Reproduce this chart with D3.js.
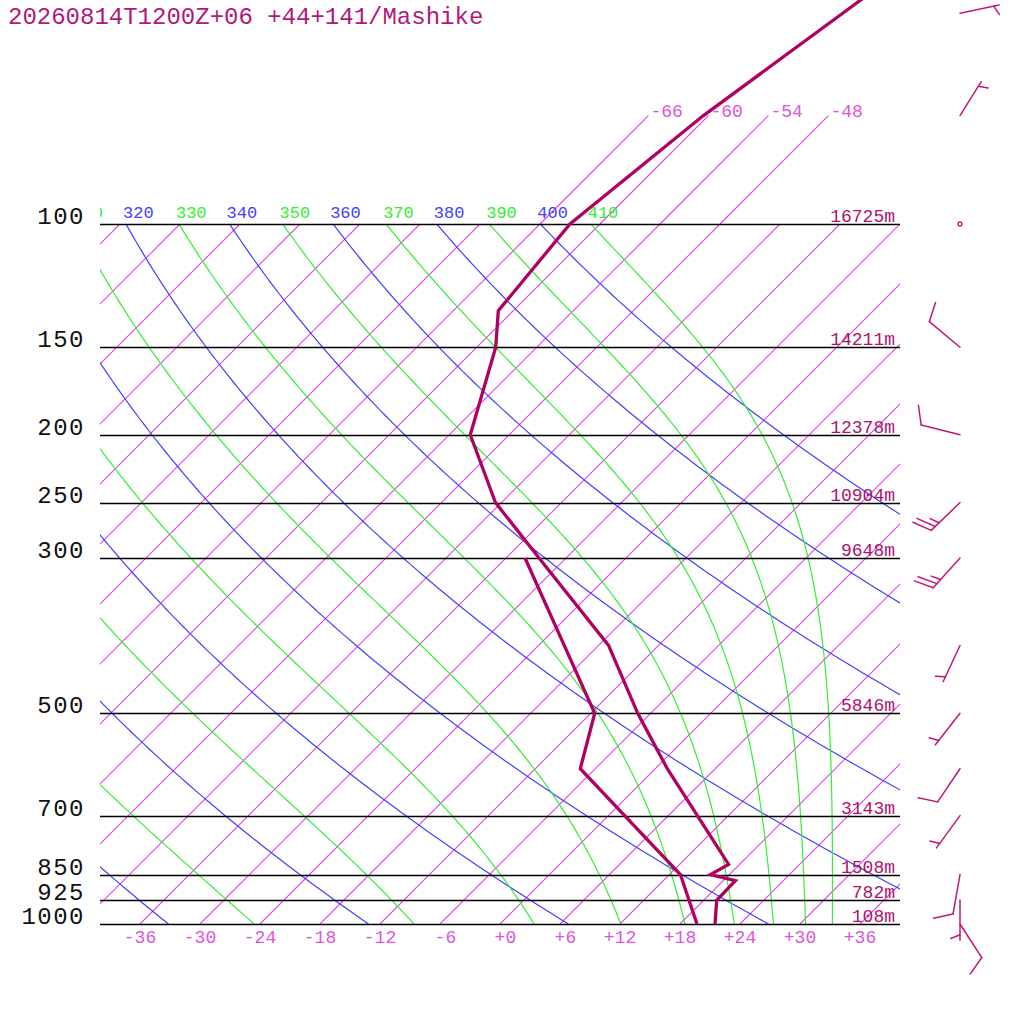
<!DOCTYPE html>
<html>
<head>
<meta charset="utf-8">
<script src="https://cdn.jsdelivr.net/npm/d3@7"></script>
<style>
  html, body { margin: 0; padding: 0; background: #fff; }
  svg { display: block; }
  text { font-family: "Liberation Mono", monospace; white-space: pre; }
</style>
</head>
<body>
<svg id="chart" width="1024" height="1024"></svg>
<script>
const title = '20260814T1200Z+06 +44+141/Mashike';

// temperature and dew point profile (hPa, degC)
const tempLevels = [1000, 925, 867, 850, 822, 600, 500, 400, 300, 250, 200, 150, 133, 100, 70, 50, 40];
const tempValues = [21.5, 19.3, 19.2, 16.1, 16.9, 1.2, -7.3, -17.0, -32.7, -42.6, -51.9, -58.1, -61.5, -63.0, -60.5, -56.8, -54.4];
const dewLevels = [1000, 850, 600, 500, 300];
const dewValues = [19.7, 13.1, -7.5, -11.6, -34.1];

// labelled levels and their heights
const stdLevels = [1000, 925, 850, 700, 500, 300, 250, 200, 150, 100];
const stdHeights = ['108m', '782m', '1508m', '3143m', '5846m', '9648m', '10904m', '12378m', '14211m', '16725m'];

// winds (direction deg, speed kt)
const windLevels = [1000, 925, 850, 700, 600, 500, 400, 300, 250, 200, 150, 100, 70, 50];
const windDir = [147, 180, 190, 216, 214, 218, 205, 222, 226, 284, 310, 0, 32, 78];
const windSpeed = [10, 5, 10, 5, 10, 5, 5, 25, 25, 10, 10, 0, 5, 5];

// grid lines and tick labels
const isoTicks = [-36, -30, -24, -18, -12, -6, 0, 6, 12, 18, 24, 30, 36];
const isoTopTicks = [-66, -60, -54, -48];
const dryThetas = [240, 260, 280, 300, 320, 340, 360, 380, 400];
const moistThetas = [250, 270, 290, 310, 330, 350, 370, 390, 410];

const isoColor = '#e040e0';
const dryColor = '#4040ff';
const moistColor = '#33ee33';

const svg = d3.select('#chart');

const y = d3.scaleLog().domain([1000, 100]).range([924, 224]);
const xT = d3.scaleLinear().domain([-40, 40]).range([100, 900]);
// skewed x position of temperature t at pressure p
const skewX = (t, p) => xT(t) + (y(1000) - y(p));

// saturated equivalent potential temperature (Bolton)
function thetaE(tc, p) {
    const tk = tc + 273.15;
    const es = 6.112 * Math.exp(17.67 * tc / (tc + 243.5));
    if (es > p * 0.5) return 1e6;
    const r = 622 * es / (p - es);
    return tk * Math.pow(1000 / p, 0.2854 * (1 - 0.00028 * r)) *
        Math.exp((3.376 / tk - 0.00254) * r * (1 + 0.00081 * r));
}

function moistT(te, p) {
    let lo = -160, hi = 60;
    for (let i = 0; i < 60; i++) {
        const mid = (lo + hi) / 2;
        if (thetaE(mid, p) < te) lo = mid; else hi = mid;
    }
    return (lo + hi) / 2;
}

const dryT = (th, p) => th * Math.pow(p / 1000, 0.2857) - 273.15;

const defs = svg.append('defs');
defs.append('clipPath').attr('id', 'clip-plot')
    .append('rect').attr('x', 100).attr('y', 224).attr('width', 800).attr('height', 700);
defs.append('clipPath').attr('id', 'clip-top')
    .append('rect').attr('x', 100).attr('y', 0).attr('width', 800).attr('height', 930);

const curveLevels = d3.range(0, 121).map(i => 1000 * Math.pow(0.1, i / 120));
const lineGen = d3.line().x(d => d[0]).y(d => d[1]);

const grid = svg.append('g').attr('clip-path', 'url(#clip-plot)');

// isotherms
grid.append('g')
    .selectAll('line')
    .data(d3.range(-120, 42, 6))
    .enter()
    .append('line')
    .attr('x1', t => skewX(t, 1000))
    .attr('y1', y(1000))
    .attr('x2', t => skewX(t, 100))
    .attr('y2', y(100))
    .attr('stroke', isoColor)
    .attr('stroke-width', 1.1);

// dry adiabats
grid.append('g')
    .selectAll('path')
    .data(dryThetas)
    .enter()
    .append('path')
    .attr('d', th => lineGen(curveLevels.map(p => [skewX(dryT(th, p), p), y(p)])))
    .attr('fill', 'none')
    .attr('stroke', dryColor)
    .attr('stroke-width', 1.2);

// moist adiabats
grid.append('g')
    .selectAll('path')
    .data(moistThetas)
    .enter()
    .append('path')
    .attr('d', te => lineGen(curveLevels.map(p => [skewX(moistT(te, p), p), y(p)])))
    .attr('fill', 'none')
    .attr('stroke', moistColor)
    .attr('stroke-width', 1.2);

// isotherms continued above 100 hPa
const upper = svg.append('g').attr('clip-path', 'url(#clip-top)');
upper.append('g')
    .selectAll('line')
    .data(isoTopTicks)
    .enter()
    .append('line')
    .attr('x1', t => skewX(t, 100))
    .attr('y1', y(100))
    .attr('x2', t => skewX(t, 70))
    .attr('y2', y(70))
    .attr('stroke', isoColor)
    .attr('stroke-width', 1.1);

upper.append('g')
    .selectAll('text')
    .data(isoTopTicks)
    .enter()
    .append('text')
    .attr('x', t => skewX(t, 70) + 2)
    .attr('y', y(70) + 1)
    .attr('font-size', 18)
    .attr('fill', '#dd55dd')
    .text(t => String(t));

// adiabat labels along 100 hPa (only those reaching into the plot)
const adiabatLabels = dryThetas.map(th => ({th, x: skewX(dryT(th, 100), 100), c: dryColor}))
    .concat(moistThetas.map(te => ({th: te, x: skewX(moistT(te, 100), 100), c: moistColor})))
    .filter(d => d.x + 26 > 100);
upper.append('g')
    .selectAll('text')
    .data(adiabatLabels)
    .enter()
    .append('text')
    .attr('x', d => d.x - 3)
    .attr('y', y(100) - 6)
    .attr('font-size', 17)
    .attr('fill', d => d.c)
    .text(d => String(d.th));

// pressure lines
svg.append('g')
    .selectAll('line')
    .data(stdLevels)
    .enter()
    .append('line')
    .attr('x1', 100)
    .attr('x2', 900)
    .attr('y1', p => Math.round(y(p)) + 0.5)
    .attr('y2', p => Math.round(y(p)) + 0.5)
    .attr('stroke', '#000')
    .attr('stroke-width', 1.3);

svg.append('g')
    .selectAll('text')
    .data(stdLevels)
    .enter()
    .append('text')
    .attr('x', 85)
    .attr('y', p => y(p))
    .attr('text-anchor', 'end')
    .attr('font-family', '"DejaVu Sans", sans-serif')
    .attr('font-size', 24)
    .attr('letter-spacing', 1.5)
    .attr('fill', '#111')
    .text(p => String(p));

svg.append('g')
    .selectAll('text')
    .data(stdLevels)
    .enter()
    .append('text')
    .attr('x', 895)
    .attr('y', p => y(p) - 2)
    .attr('text-anchor', 'end')
    .attr('font-size', 18)
    .attr('fill', '#b0106a')
    .text((p, i) => stdHeights[i]);

// temperature labels along the bottom
svg.append('g')
    .selectAll('text')
    .data(isoTicks)
    .enter()
    .append('text')
    .attr('x', t => xT(t))
    .attr('y', 943)
    .attr('text-anchor', 'middle')
    .attr('font-size', 18)
    .attr('fill', '#dd55dd')
    .text(t => (t < 0 ? '-' + (-t) : '+' + t).padStart(3, ' '));

// profiles
const profile = (levels, values) => lineGen(levels.map((p, i) => [skewX(values[i], p), y(p)]));

svg.append('path')
    .attr('d', profile(dewLevels, dewValues))
    .attr('fill', 'none')
    .attr('stroke', '#b00060')
    .attr('stroke-width', 3.3);

svg.append('path')
    .attr('d', profile(tempLevels, tempValues))
    .attr('fill', 'none')
    .attr('stroke', '#b00060')
    .attr('stroke-width', 3.3);

// wind barbs
function drawBarb(g, cx, cy, dir, spd) {
    const color = '#c0187a';
    if (spd < 2.5) {
        g.append('circle').attr('cx', cx).attr('cy', cy).attr('r', 2)
            .attr('fill', 'none').attr('stroke', color).attr('stroke-width', 1.3);
        return;
    }
    const rad = dir * Math.PI / 180;
    const ux = Math.sin(rad), uy = -Math.cos(rad);
    const tx = cx + 40 * ux, ty = cy + 40 * uy;
    const a = 68 * Math.PI / 180;
    const bx = ux * Math.cos(a) - uy * Math.sin(a);
    const by = ux * Math.sin(a) + uy * Math.cos(a);
    const segs = [[[cx, cy], [tx, ty]]];
    const n = Math.round(spd / 5);
    const full = Math.floor(n / 2), half = n % 2;
    let pos = 0;
    for (let i = 0; i < full; i++) {
        const sx = tx - pos * ux, sy = ty - pos * uy;
        segs.push([[sx, sy], [sx + 20 * bx, sy + 20 * by]]);
        pos += 5.5;
    }
    if (half) {
        if (pos === 0) pos = 5.5;
        const sx = tx - pos * ux, sy = ty - pos * uy;
        segs.push([[sx, sy], [sx + 10 * bx, sy + 10 * by]]);
    }
    g.selectAll(null)
        .data(segs)
        .enter()
        .append('path')
        .attr('d', d => lineGen(d))
        .attr('stroke', color)
        .attr('stroke-width', 1.5)
        .attr('stroke-linecap', 'round');
}

const barbs = svg.append('g');
windLevels.forEach((p, i) => drawBarb(barbs, 960, y(p), windDir[i], windSpeed[i]));

svg.append('text')
    .attr('x', 8)
    .attr('y', 24)
    .attr('font-size', 24)
    .attr('fill', '#b3177b')
    .text(title);
</script>
</body>
</html>
